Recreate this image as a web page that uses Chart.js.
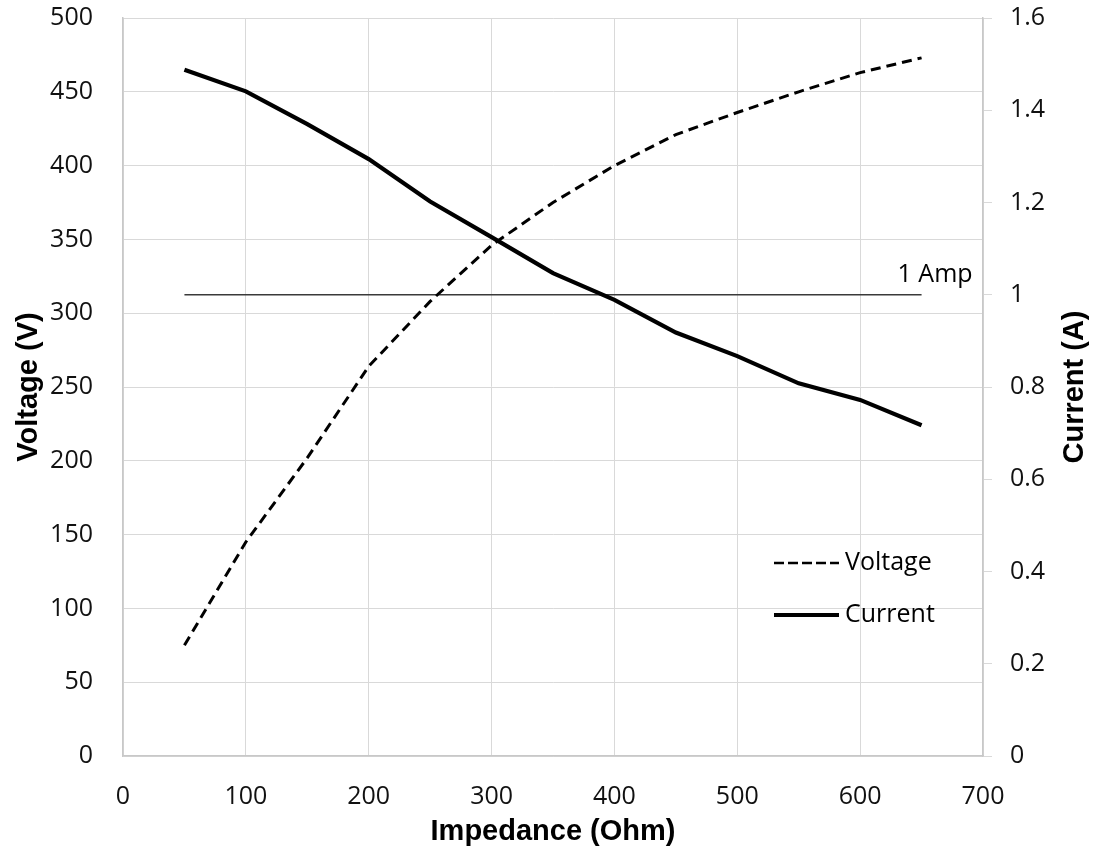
<!DOCTYPE html>
<html>
<head>
<meta charset="utf-8">
<script src="https://cdn.jsdelivr.net/npm/chart.js@4.4.1/dist/chart.umd.min.js"></script>
<style>
  body { margin: 0; background: #fff; }
  canvas { display: block; }
</style>
</head>
<body>
<canvas id="chart" width="1095" height="859"></canvas>
<script>
// values
const impedance = [50, 100, 150, 200, 250, 300, 350, 400, 450, 500, 550, 600, 650];
const voltage = [75, 145, 202, 264, 308, 346, 375, 400, 421, 436, 450, 463, 473];
const current = [1.488, 1.441, 1.370, 1.294, 1.202, 1.125, 1.047, 0.989, 0.918, 0.867, 0.808, 0.772, 0.717];
const ampLineX = [50, 650];
const ampLineY = [1, 1];

const xTicks = [0, 100, 200, 300, 400, 500, 600, 700];
const voltTicks = [0, 50, 100, 150, 200, 250, 300, 350, 400, 450, 500];
const ampTicks = [0, 0.2, 0.4, 0.6, 0.8, 1, 1.2, 1.4, 1.6];

const tickFont = { family: '"Open Sans", sans-serif', size: 25 };
const titleFont = 'bold 29px "Liberation Sans", Arial, sans-serif';
const gridColor = '#d9d9d9';

const toPoints = (xs, ys) => xs.map((x, i) => ({ x: x, y: ys[i] }));

// fixed box sizes, no extra room for overflowing tick labels
const fixSize = (w, h) => s => {
    if (w) s.width = w;
    if (h) s.height = h;
    s.paddingTop = 0;
    s.paddingBottom = 0;
    s.paddingLeft = 0;
    s.paddingRight = 0;
};

// axis titles, legend and the "1 Amp" note
const extras = {
    id: 'extras',
    afterDraw(chart) {
        const ctx = chart.ctx;
        const area = chart.chartArea;
        const midY = (area.top + area.bottom) / 2;
        ctx.save();
        ctx.fillStyle = '#000';
        ctx.font = titleFont;
        ctx.textAlign = 'center';
        ctx.textBaseline = 'middle';
        ctx.fillText('Impedance (Ohm)', (area.left + area.right) / 2, 832);

        ctx.save();
        ctx.translate(29, midY);
        ctx.rotate(-Math.PI / 2);
        ctx.fillText('Voltage (V)', 0, 0);
        ctx.restore();

        ctx.save();
        ctx.translate(1075, midY);
        ctx.rotate(-Math.PI / 2);
        ctx.fillText('Current (A)', 0, 0);
        ctx.restore();

        // 1 Amp label
        const y1 = chart.scales.y1;
        const xs = chart.scales.x;
        ctx.font = '25px "Open Sans", sans-serif';
        ctx.textAlign = 'right';
        ctx.textBaseline = 'alphabetic';
        ctx.fillText('1 Amp', xs.getPixelForValue(ampLineX[1]) + 51, y1.getPixelForValue(ampLineY[1]) - 13);

        // legend
        const items = [
            { label: 'Voltage', dash: [10, 4], width: 2.5, y: 563 },
            { label: 'Current', dash: [], width: 4, y: 615 }
        ];
        items.forEach(it => {
            ctx.beginPath();
            ctx.setLineDash(it.dash);
            ctx.lineWidth = it.width;
            ctx.strokeStyle = '#000';
            ctx.lineCap = 'butt';
            ctx.moveTo(774, it.y);
            ctx.lineTo(839, it.y);
            ctx.stroke();
            ctx.setLineDash([]);
            ctx.textAlign = 'left';
            ctx.textBaseline = 'middle';
            ctx.fillText(it.label, 845, it.y);
        });
        ctx.restore();
    }
};

new Chart(document.getElementById('chart'), {
    type: 'line',
    data: {
        datasets: [{
            label: 'Voltage',
            data: toPoints(impedance, voltage),
            yAxisID: 'y',
            borderColor: '#000',
            borderWidth: 3,
            borderDash: [10, 6],
            pointRadius: 0,
            tension: 0
        }, {
            label: 'Current',
            data: toPoints(impedance, current),
            yAxisID: 'y1',
            borderColor: '#000',
            borderWidth: 4.2,
            pointRadius: 0,
            tension: 0
        }, {
            label: '1 Amp',
            data: toPoints(ampLineX, ampLineY),
            yAxisID: 'y1',
            borderColor: '#3a3a3a',
            borderWidth: 1.3,
            pointRadius: 0
        }]
    },
    options: {
        responsive: false,
        animation: false,
        events: [],
        layout: {
            padding: { top: 18, left: 0, right: 0, bottom: 0 }
        },
        plugins: {
            legend: { display: false },
            tooltip: { enabled: false }
        },
        scales: {
            x: {
                type: 'linear',
                min: 0,
                max: 700,
                afterBuildTicks: s => { s.ticks = xTicks.map(v => ({ value: v })); },
                afterFit: fixSize(0, 103),
                ticks: { font: tickFont, color: '#111', padding: 26, maxRotation: 0 },
                grid: { color: gridColor, drawTicks: false },
                border: { color: '#c8c8c8', width: 1.5 }
            },
            y: {
                position: 'left',
                min: 0,
                max: 500,
                afterBuildTicks: s => { s.ticks = voltTicks.map(v => ({ value: v })); },
                afterFit: fixSize(123, 0),
                ticks: { font: tickFont, color: '#111', padding: 30 },
                grid: { color: gridColor, drawTicks: false },
                border: { color: '#c8c8c8', width: 1.5 }
            },
            y1: {
                position: 'right',
                min: 0,
                max: 1.6,
                afterBuildTicks: s => { s.ticks = ampTicks.map(v => ({ value: v })); },
                afterFit: fixSize(112, 0),
                ticks: {
                    font: tickFont,
                    color: '#111',
                    padding: 18,
                    callback: v => String(+v.toFixed(1))
                },
                grid: { drawOnChartArea: false, color: gridColor, tickLength: 9 },
                border: { color: '#c8c8c8', width: 1.5 }
            }
        }
    },
    plugins: [extras]
});
</script>
</body>
</html>
